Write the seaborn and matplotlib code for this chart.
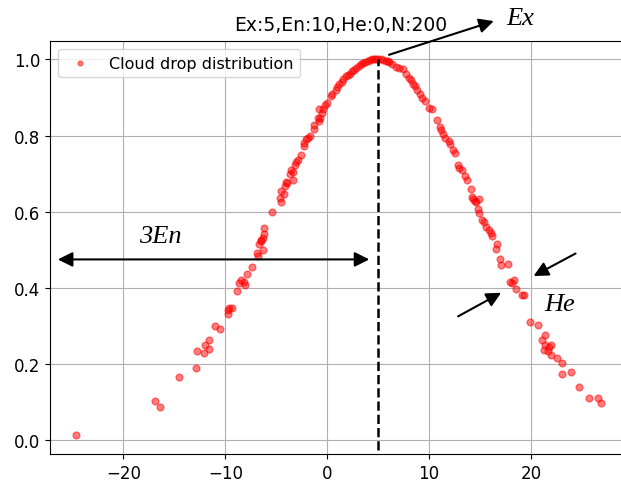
import matplotlib
matplotlib.use("Agg")
import matplotlib.pyplot as plt
import seaborn as sns
import pandas as pd

# cloud drops (x = drop value, y = certainty degree)
drop_x = [-24.6, -16.9, -16.4, -14.5, -12.9, -12.8, -12.1, -12.0, -11.6, -11.6,
          -11.0, -10.5, -9.7, -9.7, -9.6, -9.3, -8.9, -8.7, -8.5, -8.2,
          -8.1, -7.9, -7.4, -6.9, -6.8, -6.7, -6.5, -6.3, -6.3, -6.5,
          -6.2, -6.2, -5.4, -4.6, -4.5, -4.5, -4.2, -4.1, -4.0, -3.9,
          -3.4, -3.7, -3.6, -3.4, -3.2, -3.1, -2.9, -2.6, -2.3, -2.25,
          -2.1, -1.9, -1.7, -1.3, -1.3, -0.95, -0.85, -0.8, -0.7, -0.5,
          -0.4, -0.2, 0.0, 0.35, 0.5, 0.85, 1.0, 1.2, 1.4, 1.5,
          1.8, 2.0, 2.2, 2.4, 2.6, 2.8, 3.1, 3.3, 3.5, 3.7,
          3.95, 4.2, 4.4, 4.6, 4.8, 5.0, 5.3, 5.5, 5.75, 6.0,
          6.1, 6.4, 6.7, 7.06, 7.4, 7.7, 8.0, 8.2, 8.4, 8.6,
          8.85, 9.1, 9.3, 9.6, 10.0, 10.3, 10.75, 11.05, 11.2, 11.4,
          11.6, 11.9, 12.0, 12.3, 12.5, 12.8, 12.9, 13.2, 13.5, 13.75,
          14.1, 14.25, 14.3, 14.5, 14.6, 14.9, 14.8, 14.9, 15.2, 15.4,
          15.6, 15.9, 16.1, 16.2, 16.6, 16.7, 16.9, 17.0, 17.75, 17.9,
          18.1, 18.3, 18.55, 19.1, 19.3, 19.9, 20.7, 21.1, 21.3, 21.4,
          21.4, 21.7, 21.8, 22.0, 22.0, 22.5, 23.0, 23.0, 23.9, 24.7,
          25.7, 26.6, 26.9]
drop_y = [0.014, 0.102, 0.087, 0.167, 0.190, 0.234, 0.228, 0.251, 0.240, 0.264,
          0.301, 0.293, 0.331, 0.343, 0.348, 0.348, 0.393, 0.413, 0.421, 0.417,
          0.407, 0.436, 0.456, 0.491, 0.483, 0.516, 0.524, 0.501, 0.532, 0.526,
          0.542, 0.558, 0.600, 0.636, 0.627, 0.654, 0.647, 0.668, 0.677, 0.675,
          0.684, 0.699, 0.710, 0.705, 0.723, 0.730, 0.736, 0.749, 0.782, 0.773,
          0.792, 0.795, 0.799, 0.818, 0.827, 0.847, 0.839, 0.869, 0.847, 0.860,
          0.871, 0.880, 0.887, 0.904, 0.910, 0.921, 0.927, 0.935, 0.942, 0.948,
          0.956, 0.960, 0.963, 0.969, 0.973, 0.978, 0.984, 0.987, 0.990, 0.993,
          0.996, 0.998, 1.000, 1.000, 1.000, 1.000, 1.000, 0.998, 0.996, 0.995,
          0.993, 0.987, 0.980, 0.978, 0.974, 0.961, 0.952, 0.945, 0.936, 0.930,
          0.921, 0.910, 0.900, 0.891, 0.873, 0.869, 0.840, 0.823, 0.814, 0.804,
          0.793, 0.786, 0.777, 0.762, 0.754, 0.724, 0.714, 0.710, 0.695, 0.683,
          0.661, 0.638, 0.634, 0.629, 0.625, 0.634, 0.607, 0.597, 0.579, 0.572,
          0.559, 0.553, 0.545, 0.536, 0.503, 0.516, 0.475, 0.461, 0.463, 0.415,
          0.414, 0.422, 0.398, 0.382, 0.382, 0.311, 0.302, 0.264, 0.238, 0.276,
          0.250, 0.234, 0.245, 0.250, 0.223, 0.215, 0.202, 0.175, 0.180, 0.141,
          0.110, 0.110, 0.097]

Ex, En, He, N = 5, 10, 0, 200
title = f"Ex:{Ex},En:{En},He:{He},N:{N}"

df = pd.DataFrame({"x": drop_x, "y": drop_y})

fig = plt.figure(figsize=(6.21, 4.85), dpi=100)
ax = fig.add_axes([0.0805, 0.061, 0.9356, 0.852])

sns.scatterplot(data=df, x="x", y="y", ax=ax, color="red", alpha=0.5,
                edgecolor="red", linewidth=1, s=24,
                label="Cloud drop distribution")
ax.grid(True, color="#b0b0b0", linewidth=0.8)
ax.set_axisbelow(True)
ax.set_xlabel("")
ax.set_ylabel("")
ax.set_xlim(-27.2, 29.8)
ax.set_ylim(-0.037, 1.048)
ax.spines["right"].set_visible(False)
ax.tick_params(labelsize=12)
ax.set_title(title, fontsize=13.5, pad=8)
ax.legend(loc="upper left", fontsize=11.5, markerscale=0.7)

# expectation line
ax.vlines(Ex, -0.025, 1.0, colors="k", linestyles="--", linewidth=1.8)

serif = dict(family="Liberation Serif", style="italic", fontsize=19)
arrow = dict(arrowstyle="-|>", color="k", lw=1.5, mutation_scale=22)

ax.annotate("", xy=(16.6, 1.103), xytext=(5.8, 1.01), arrowprops=arrow,
            annotation_clip=False)
ax.text(17.6, 1.11, "Ex", ha="left", va="center", clip_on=False, **serif)

ax.annotate("", xy=(-26.7, 0.475), xytext=(4.4, 0.475),
            arrowprops=dict(arrow, arrowstyle="<|-|>"))
ax.text(-16.4, 0.537, "3En", ha="center", va="center", **serif)

ax.annotate("", xy=(20.0, 0.428), xytext=(24.6, 0.494), arrowprops=arrow)
ax.annotate("", xy=(17.3, 0.391), xytext=(12.6, 0.322), arrowprops=arrow)
ax.text(22.8, 0.359, "He", ha="center", va="center", **serif)

fig.savefig("out.png", dpi=100)
